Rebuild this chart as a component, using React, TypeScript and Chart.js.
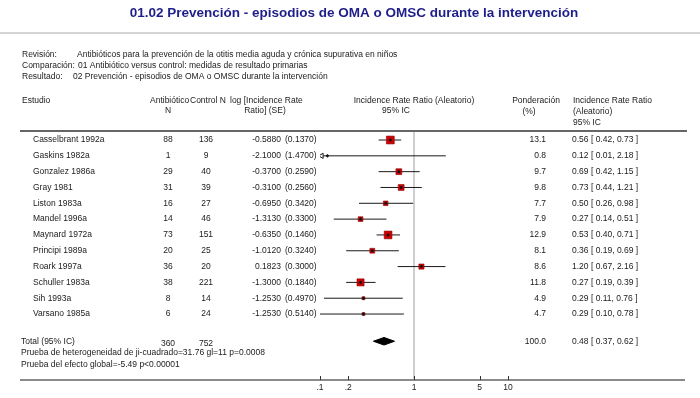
import React, { useEffect, useRef } from "react";
import { Chart, registerables } from "chart.js";

Chart.register(...registerables);

const titleText = "01.02 Prevención - episodios de OMA o OMSC durante la intervención";
const infoLabels = ["Revisión:", "Comparación:", "Resultado:"];
const infoValues = [
  "Antibióticos para la prevención de la otitis media aguda y crónica supurativa en niños",
  "01 Antibiótico versus control: medidas de resultado primarias",
  "02 Prevención - episodios de OMA o OMSC durante la intervención",
];

const studies = [
  "Casselbrant 1992a", "Gaskins 1982a", "Gonzalez 1986a", "Gray 1981",
  "Liston 1983a", "Mandel 1996a", "Maynard 1972a", "Principi 1989a",
  "Roark 1997a", "Schuller 1983a", "Sih 1993a", "Varsano 1985a",
];
const antibioticN = [88, 1, 29, 31, 16, 14, 73, 20, 36, 38, 8, 6];
const controlN = [136, 9, 40, 39, 27, 46, 151, 25, 20, 221, 14, 24];
const logIRR = ["-0.5880", "-2.1000", "-0.3700", "-0.3100", "-0.6950", "-1.3130", "-0.6350", "-1.0120", "0.1823", "-1.3000", "-1.2530", "-1.2530"];
const logSE = ["(0.1370)", "(1.4700)", "(0.2590)", "(0.2560)", "(0.3420)", "(0.3300)", "(0.1460)", "(0.3240)", "(0.3000)", "(0.1840)", "(0.4970)", "(0.5140)"];
const weights = [13.1, 0.8, 9.7, 9.8, 7.7, 7.9, 12.9, 8.1, 8.6, 11.8, 4.9, 4.7];
const irr = [0.56, 0.12, 0.69, 0.73, 0.5, 0.27, 0.53, 0.36, 1.2, 0.27, 0.29, 0.29];
const ciLow = [0.42, 0.01, 0.42, 0.44, 0.26, 0.14, 0.4, 0.19, 0.67, 0.19, 0.11, 0.1];
const ciHigh = [0.73, 2.18, 1.15, 1.21, 0.98, 0.51, 0.71, 0.69, 2.16, 0.39, 0.76, 0.78];

const totalLabel = "Total (95% IC)";
const totalAntibiotic = 360;
const totalControl = 752;
const totalWeight = "100.0";
const totalIrr = 0.48;
const totalLow = 0.37;
const totalHigh = 0.62;
const heterogeneityText = "Prueba de heterogeneidad de ji-cuadrado=31.76 gl=11 p=0.0008";
const overallText = "Prueba del efecto global=-5.49 p<0.00001";

const tickValues = [0.1, 0.2, 1, 5, 10];
const tickLabels = [".1", ".2", "1", "5", "10"];

const X_MIN = 0.1;
const X_MAX = 10;
const TOTAL_ROW = 12.72;
const FONT = '"Liberation Sans", Arial, sans-serif';
const SMALL = `8.5px ${FONT}`;

const fmt = (v: number) => v.toFixed(2);

const forestPlugin = {
  id: "forestDecor",
  beforeDatasetsDraw(chart: any) {
    const { ctx, chartArea, scales } = chart;
    const xs = scales.x;
    ctx.save();
    ctx.strokeStyle = "#d4d4d4";
    ctx.lineWidth = 2;
    ctx.beginPath();
    ctx.moveTo(0, 33);
    ctx.lineTo(700, 33);
    ctx.stroke();
    const x1 = xs.getPixelForValue(1);
    ctx.strokeStyle = "#cfcfcf";
    ctx.lineWidth = 2;
    ctx.beginPath();
    ctx.moveTo(x1, chartArea.top);
    ctx.lineTo(x1, chartArea.bottom);
    ctx.stroke();
    ctx.strokeStyle = "#666666";
    ctx.lineWidth = 2;
    ctx.beginPath();
    ctx.moveTo(20, chartArea.top);
    ctx.lineTo(687, chartArea.top);
    ctx.stroke();
    ctx.strokeStyle = "#8a8a8a";
    ctx.beginPath();
    ctx.moveTo(20, chartArea.bottom);
    ctx.lineTo(685, chartArea.bottom);
    ctx.stroke();
    ctx.strokeStyle = "#333";
    ctx.lineWidth = 1;
    tickValues.forEach((v) => {
      const px = Math.round(xs.getPixelForValue(v)) + 0.5;
      ctx.beginPath();
      ctx.moveTo(px, chartArea.bottom - 4);
      ctx.lineTo(px, chartArea.bottom);
      ctx.stroke();
    });
    ctx.restore();
  },
  afterDraw(chart: any) {
    const { ctx, scales, chartArea } = chart;
    const xs = scales.x;
    const ys = scales.y;
    ctx.save();
    ctx.textBaseline = "middle";
    ctx.fillStyle = "#1e1e8a";
    ctx.font = `bold 13.5px ${FONT}`;
    ctx.textAlign = "center";
    ctx.fillText(titleText, 354, 13);

    ctx.fillStyle = "#1a1a1a";
    ctx.font = SMALL;
    ctx.textAlign = "left";
    const infoY = [55, 66, 77];
    const infoX = [77, 73, 73];
    infoLabels.forEach((l, i) => {
      ctx.fillText(l, 22, infoY[i]);
      const w = ctx.measureText(l).width;
      ctx.fillText(infoValues[i], Math.max(infoX[i], 22 + w + 3), infoY[i]);
    });

    ctx.fillText("Estudio", 22, 101);
    ctx.fillText("Antibiótico", 150, 101);
    ctx.fillText("Control N", 190, 101);
    ctx.fillText("log [Incidence Rate", 230, 101);
    ctx.textAlign = "center";
    ctx.fillText("N", 168, 111);
    ctx.fillText("Ratio] (SE)", 265, 111);
    ctx.fillText("Incidence Rate Ratio (Aleatorio)", 414, 101);
    ctx.fillText("95% IC", 396, 111);
    ctx.fillText("Ponderación", 536, 101);
    ctx.fillText("(%)", 529, 112);
    ctx.textAlign = "left";
    ctx.fillText("Incidence Rate Ratio", 573, 101);
    ctx.fillText("(Aleatorio)", 573, 112);
    ctx.fillText("95% IC", 573, 123);

    studies.forEach((s, i) => {
      const y = ys.getPixelForValue(i);
      ctx.textAlign = "left";
      ctx.fillText(s, 33, y);
      ctx.textAlign = "center";
      ctx.fillText(String(antibioticN[i]), 168, y);
      ctx.fillText(String(controlN[i]), 206, y);
      ctx.textAlign = "right";
      ctx.fillText(logIRR[i], 281, y);
      ctx.fillText(weights[i].toFixed(1), 546, y);
      ctx.textAlign = "left";
      ctx.fillText(logSE[i], 285, y);
      ctx.fillText(`${fmt(irr[i])} [ ${fmt(ciLow[i])}, ${fmt(ciHigh[i])} ]`, 572, y);
    });

    const ty = ys.getPixelForValue(TOTAL_ROW);
    ctx.textAlign = "left";
    ctx.fillText(totalLabel, 21, ty);
    ctx.textAlign = "center";
    ctx.fillText(String(totalAntibiotic), 168, ty + 2);
    ctx.fillText(String(totalControl), 206, ty + 2);
    ctx.textAlign = "right";
    ctx.fillText(totalWeight, 546, ty);
    ctx.textAlign = "left";
    ctx.fillText(`${fmt(totalIrr)} [ ${fmt(totalLow)}, ${fmt(totalHigh)} ]`, 572, ty);
    ctx.fillText(heterogeneityText, 21, ty + 11);
    ctx.fillText(overallText, 21, ty + 23);

    ctx.textAlign = "center";
    tickValues.forEach((v, i) => {
      ctx.fillText(tickLabels[i], xs.getPixelForValue(v), chartArea.bottom + 8);
    });
    ctx.restore();
  },
};

export default function App() {
  const ref = useRef<HTMLCanvasElement>(null);
  useEffect(() => {
    if (!ref.current) return;
    const ciDatasets = studies.map((s, i) => ({
      type: "line" as const,
      label: s,
      data: [
        { x: ciLow[i], y: i },
        { x: ciHigh[i], y: i },
      ],
      borderColor: "#1a1a1a",
      borderWidth: 1,
      pointRadius: 0,
      showLine: true,
      fill: false,
      order: 3,
    }));
    const arrowIdx = ciLow.map((v, i) => (v < X_MIN ? i : -1)).filter((i) => i >= 0);
    const dh = 0.24;
    const chart = new Chart(ref.current, {
      type: "scatter",
      data: {
        datasets: [
          {
            type: "scatter",
            label: "dots",
            data: irr.map((v, i) => ({ x: v, y: i })),
            pointStyle: "rectRot",
            pointRadius: 1.8,
            backgroundColor: "#111",
            borderColor: "#111",
            borderWidth: 0,
            order: 0,
          },
          {
            type: "scatter",
            label: "weights",
            data: irr.map((v, i) => ({ x: v, y: i })),
            pointStyle: "rect",
            pointRadius: weights.map((w) => (w * 0.6) / Math.SQRT2),
            backgroundColor: "#cc0000",
            borderColor: "#900000",
            borderWidth: 0.6,
            order: 1,
          },
          {
            type: "scatter",
            label: "arrows",
            data: arrowIdx.map((i) => ({ x: X_MIN * 1.04, y: i })),
            pointStyle: "triangle",
            rotation: -90,
            pointRadius: 3,
            backgroundColor: "#ffffff",
            borderColor: "#1a1a1a",
            borderWidth: 1,
            order: 1,
          },
          {
            type: "line",
            label: "total",
            data: [
              { x: totalLow, y: TOTAL_ROW },
              { x: totalIrr, y: TOTAL_ROW - dh },
              { x: totalHigh, y: TOTAL_ROW },
              { x: totalIrr, y: TOTAL_ROW + dh },
              { x: totalLow, y: TOTAL_ROW },
            ],
            borderColor: "#000",
            borderWidth: 1,
            backgroundColor: "#000",
            pointRadius: 0,
            fill: "shape" as any,
            tension: 0,
            order: 2,
          },
          ...ciDatasets,
        ] as any,
      },
      options: {
        animation: false,
        responsive: false,
        events: [],
        layout: { padding: { left: 320, right: 192, top: 131, bottom: 18 } },
        plugins: {
          legend: { display: false },
          tooltip: { enabled: false },
          title: { display: false },
        },
        scales: {
          x: { type: "logarithmic", min: X_MIN, max: X_MAX, display: false },
          y: { type: "linear", min: -0.57, max: 15.17, reverse: true, display: false },
        },
      },
      plugins: [forestPlugin],
    });
    return () => chart.destroy();
  }, []);
  return (
    <div style={{ position: "fixed", left: 0, top: 0, width: 700, height: 398, background: "#fff" }}>
      <canvas ref={ref} width={700} height={398} style={{ display: "block", width: 700, height: 398 }} />
    </div>
  );
}
